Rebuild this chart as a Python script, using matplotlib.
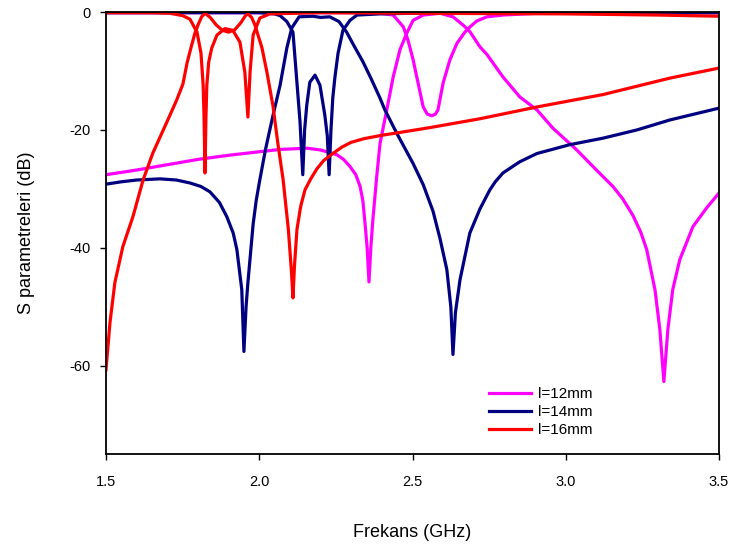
import matplotlib
matplotlib.use("Agg")
import matplotlib.pyplot as plt

plt.rcParams['font.family'] = ['Liberation Sans', 'DejaVu Sans']
plt.rcParams['axes.unicode_minus'] = False

# l=12mm
mag_s21_f = [1.50, 1.60, 1.70, 1.80, 1.90, 2.00, 2.07, 2.156, 2.20, 2.253, 2.275, 2.296, 2.315, 2.329, 2.338,
             2.345, 2.352, 2.358, 2.364, 2.371, 2.384, 2.394, 2.416, 2.437, 2.459, 2.481, 2.502, 2.535,
             2.59, 2.632, 2.665, 2.687, 2.72, 2.743, 2.795, 2.85, 2.906, 2.958, 3.036, 3.10, 3.154,
             3.186, 3.219, 3.245, 3.264, 3.291, 3.307, 3.32, 3.333, 3.349, 3.372, 3.415, 3.46, 3.50]
mag_s21_db = [-27.6, -26.8, -25.9, -25.0, -24.3, -23.7, -23.3, -23.1, -23.4, -24.2, -25.0, -26.2, -27.6, -29.6, -32.0,
              -35.8, -40.0, -45.8, -40.0, -35.0, -27.5, -22.3, -16.6, -11.0, -6.4, -3.6, -1.4, -0.5,
              -0.2, -0.8, -2.2, -3.3, -5.9, -7.2, -11.0, -14.4, -16.6, -19.7, -23.4, -26.8, -29.6,
              -31.7, -34.5, -37.4, -40.3, -47.1, -53.9, -62.7, -53.9, -47.1, -42.0, -36.4, -33.2, -30.7]
mag_s11_f = [1.50, 2.30, 2.394, 2.437, 2.47, 2.485, 2.502, 2.518, 2.535, 2.548, 2.563, 2.575, 2.583, 2.60,
             2.622, 2.645, 2.671, 2.69, 2.71, 2.743, 2.795, 2.906, 3.50]
mag_s11_db = [-0.1, -0.1, -0.2, -0.5, -2.5, -4.7, -8.1, -12.0, -16.1, -17.3, -17.6, -17.3, -16.6, -12.0,
              -8.1, -5.3, -3.4, -2.4, -1.5, -0.8, -0.5, -0.2, -0.1]

# l=14mm
navy_s21_f = [1.50, 1.55, 1.60, 1.676, 1.73, 1.774, 1.81, 1.839, 1.87, 1.894, 1.915, 1.927, 1.943, 1.95,
              1.957, 1.963, 1.98, 1.99, 2.00, 2.02, 2.045, 2.068, 2.09, 2.106, 2.13, 2.175, 2.20, 2.23,
              2.26, 2.285, 2.31, 2.338, 2.365, 2.394, 2.41, 2.449, 2.502, 2.535, 2.567, 2.59, 2.612, 2.625,
              2.632, 2.64, 2.655, 2.687, 2.72, 2.752, 2.77, 2.795, 2.85, 2.906, 3.013, 3.121, 3.232, 3.34, 3.50]
navy_s21_db = [-29.2, -28.8, -28.5, -28.3, -28.5, -29.0, -29.6, -30.5, -32.3, -34.7, -37.5, -40.3, -47.1, -57.6,
               -50.0, -45.9, -36.0, -32.0, -29.0, -23.4, -17.5, -12.4, -6.1, -2.7, -0.8, -0.7, -0.9, -0.8,
               -1.6, -3.4, -5.8, -8.4, -11.3, -14.6, -16.6, -20.6, -25.7, -29.3, -33.8, -38.5, -43.7, -50.0,
               -58.1, -51.0, -45.4, -37.5, -33.4, -30.2, -28.8, -27.3, -25.4, -24.0, -22.5, -21.4, -20.0, -18.3, -16.3]
navy_s11_f = [1.50, 2.00, 2.05, 2.068, 2.09, 2.11, 2.12, 2.133, 2.142, 2.148, 2.155, 2.165, 2.182, 2.198,
              2.214, 2.222, 2.228, 2.234, 2.24, 2.247, 2.257, 2.273, 2.296, 2.319, 2.394, 2.60, 3.50]
navy_s11_db = [-0.1, -0.1, -0.3, -0.6, -1.6, -3.4, -10.0, -18.6, -27.6, -20.0, -15.8, -11.9, -10.7, -12.4,
               -17.5, -21.0, -27.6, -20.0, -14.5, -11.0, -7.0, -3.1, -1.4, -0.5, -0.3, -0.1, -0.1]

# l=16mm
red_s21_f = [1.50, 1.513, 1.529, 1.555, 1.588, 1.621, 1.653, 1.70, 1.73, 1.751, 1.765, 1.78, 1.79, 1.80, 1.812,
             1.823, 1.84, 1.86, 1.88, 1.90, 1.92, 1.94, 1.955, 1.963, 1.975, 1.986, 2.009, 2.025, 2.045,
             2.06, 2.078, 2.095, 2.105, 2.11, 2.115, 2.123, 2.135, 2.149, 2.168, 2.188, 2.21, 2.24, 2.27,
             2.30, 2.34, 2.40, 2.45, 2.557, 2.72, 2.906, 3.121, 3.34, 3.50]
red_s21_db = [-60.7, -52.7, -45.9, -39.8, -34.7, -28.5, -23.9, -18.5, -15.0, -12.2, -8.5, -5.5, -3.6, -2.2, -0.8,
              -0.2, -0.9, -2.2, -3.1, -3.4, -3.0, -1.8, -0.6, -0.3, -0.9, -2.2, -6.1, -10.2, -16.0,
              -22.0, -28.5, -36.9, -44.0, -48.5, -43.0, -36.9, -33.0, -30.2, -28.3, -26.6, -25.2, -24.0, -22.9,
              -22.1, -21.5, -20.9, -20.5, -19.6, -18.1, -16.1, -14.0, -11.2, -9.5]
red_s11_f = [1.50, 1.65, 1.709, 1.75, 1.774, 1.797, 1.81, 1.817, 1.82, 1.823, 1.826, 1.829, 1.835, 1.845,
             1.862, 1.888, 1.914, 1.937, 1.953, 1.963, 1.97, 1.98, 2.002, 2.035, 2.20, 2.50, 3.00, 3.30, 3.50]
red_s11_db = [-0.1, -0.1, -0.2, -0.6, -1.2, -3.4, -7.0, -12.4, -18.0, -27.3, -18.0, -12.4, -8.5, -6.1,
              -3.9, -2.8, -3.1, -5.1, -10.2, -17.8, -10.2, -3.9, -1.0, -0.3, -0.1, -0.2, -0.3, -0.5, -0.7]

labels = ['l=12mm', 'l=14mm', 'l=16mm']
colors = ['#ff00ff', '#000080', '#ff0000']

fig = plt.figure(figsize=(7.34, 5.5), dpi=100)
ax = fig.add_axes([0.1444, 0.1745, 0.8352, 0.8035])

lw = 2.3
ax.plot(mag_s21_f, mag_s21_db, color=colors[0], lw=lw, label=labels[0])
ax.plot(mag_s11_f, mag_s11_db, color=colors[0], lw=lw)
ax.plot(navy_s21_f, navy_s21_db, color=colors[1], lw=lw, label=labels[1])
ax.plot(navy_s11_f, navy_s11_db, color=colors[1], lw=lw)
ax.plot(red_s21_f, red_s21_db, color=colors[2], lw=lw, label=labels[2])
ax.plot(red_s11_f, red_s11_db, color=colors[2], lw=lw)

ax.set_xlim(1.5, 3.5)
ax.set_ylim(-75, 0)
ax.set_xticks([1.5, 2.0, 2.5, 3.0, 3.5])
ax.set_xticklabels(['1.5', '2.0', '2.5', '3.0', '3.5'])
ax.set_yticks([0, -20, -40, -60])
ax.tick_params(direction='out', length=4, width=1, labelsize=10.5)
ax.tick_params(axis='x', pad=11)
ax.tick_params(axis='y', pad=7)
for s in ax.spines.values():
    s.set_linewidth(1.3)

ax.set_xlabel('Frekans (GHz)', fontsize=13, labelpad=25)
ax.set_ylabel('S parametreleri (dB)', fontsize=13, labelpad=25)

ax.legend(loc='upper left', bbox_to_anchor=(0.608, 0.175), frameon=False, fontsize=11,
          handlelength=2.7, labelspacing=0.25, handletextpad=0.5, borderpad=0.2)

fig.savefig('out.png', dpi=100)
